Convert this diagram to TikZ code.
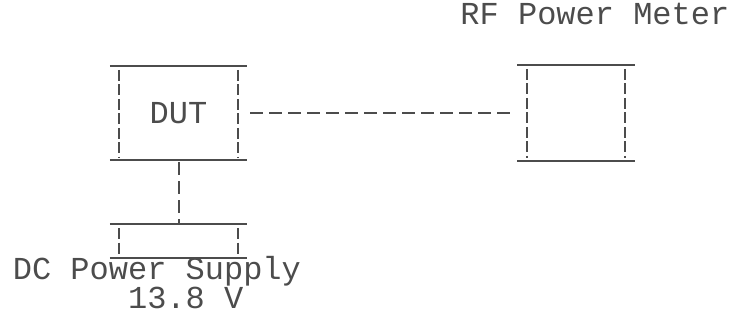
\documentclass[tikz,border=0pt]{standalone}
\usepackage{fontspec}
\usepackage{xcolor}
\usetikzlibrary{positioning}
\newfontfamily\typefont{Liberation Mono}
\definecolor{ink}{gray}{0.3}

\begin{document}
\begin{tikzpicture}[
    every node/.style={font=\typefont\fontsize{32}{28}\selectfont, text=ink},
    unit/.style={inner sep=0pt, minimum height=94pt, minimum width=137pt},
    rail/.style={line width=2pt, draw=ink},
    side/.style={line width=2pt, draw=ink, dash pattern=on 11pt off 3.5pt,
                 shorten <=4pt, shorten >=3pt},
    link/.style={line width=2pt, draw=ink, dash pattern=on 13pt off 6pt},
    lbl/.style={inner sep=0pt, anchor=base},
]
  \useasboundingbox (0,0) rectangle (730pt,320pt);
  % Units
  \node[unit] (dut) at (178.5pt,207pt) {DUT};
  \node[unit, minimum width=117pt, minimum height=96pt, right=270pt of dut] (meter) {};
  \node[unit, minimum height=33pt, below=64pt of dut] (psu) {};
  % Rails and dashed sides
  \foreach \u in {dut,meter,psu} {
    \draw[rail] (\u.north west) -- (\u.north east);
    \draw[rail] (\u.south west) -- (\u.south east);
    \draw[side] ([xshift=9.5pt]\u.north west) -- ([xshift=9.5pt]\u.south west);
    \draw[side] ([xshift=-9.5pt]\u.north east) -- ([xshift=-9.5pt]\u.south east);
  }
  % Connections
  \draw[link, shorten <=3pt, shorten >=2pt] (dut) -- (meter);
  \draw[link, shorten <=2pt] (dut) -- (psu);
  % Labels
  \node[lbl] (metertxt) at ([xshift=19pt, yshift=40pt]meter.north) {RF Power Meter};
  \node[lbl, align=left] (psutxt) at ([xshift=-21.6pt, yshift=-51pt]psu.south)
    {DC Power Supply\\\hspace*{3.6em}13.8 V};
\end{tikzpicture}
\end{document}
